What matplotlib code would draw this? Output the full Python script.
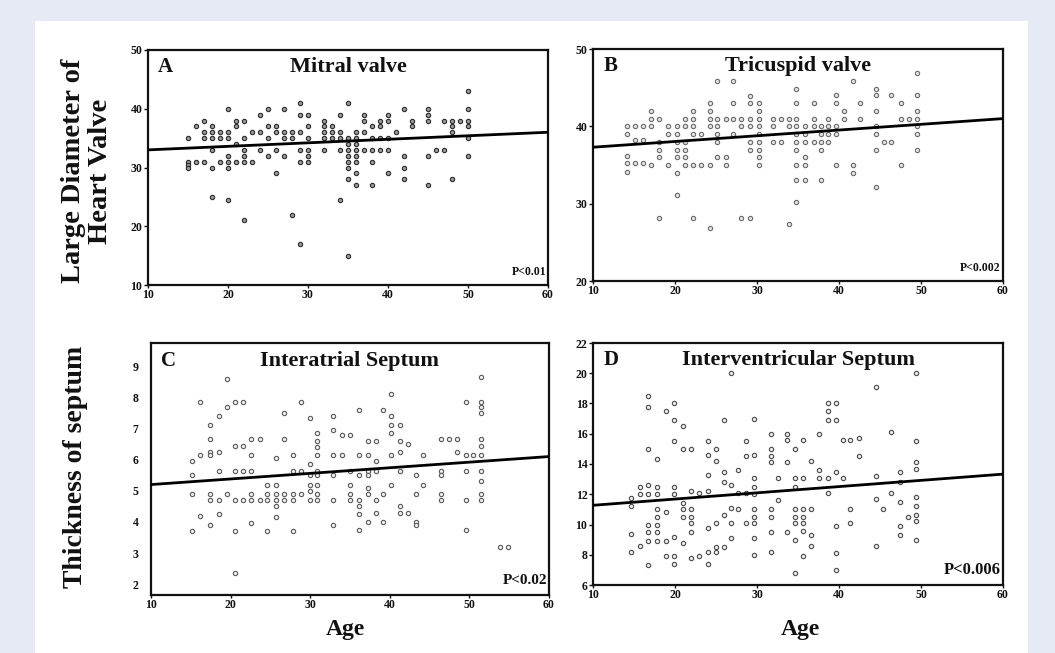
import matplotlib
matplotlib.use("Agg")
import matplotlib.pyplot as plt
from matplotlib.patches import Rectangle

plt.rcParams['font.family'] = ['Liberation Serif', 'DejaVu Serif']
plt.rcParams['font.weight'] = 'bold'

# ---------------- data ----------------
# Panel A: Mitral valve (age, diameter)
a_age = [15]*4 + [16]*2 + [17]*4 + [18]*6 + [19]*3 + [20]*7 + [21]*4 + [22]*6 + [23]*2 + [24]*3 + \
        [25]*4 + [26]*4 + [27]*4 + [28]*3 + [29]*6 + [30]*6 + [32]*5 + [33]*3 + [34]*5 + [35]*9 + \
        [36]*8 + [37]*4 + [38]*5 + [39]*4 + [40]*5 + [41]*1 + [42]*4 + [43]*2 + [45]*5 + [46]*1 + \
        [47]*2 + [48]*4 + [49]*1 + [50]*6
a_val = [35, 31, 30.5, 30,
         37, 31,
         38, 36, 35, 31,
         37, 36, 35, 33, 30, 25,
         36, 35, 31,
         40, 36, 35, 32, 31, 30, 24.5,
         38, 37, 34, 31,
         38, 35, 33, 32, 31, 21,
         36, 31,
         39, 36, 33,
         40, 37, 35, 32,
         37, 36, 33, 29,
         40, 36, 35, 32,
         36, 35, 22,
         41, 39, 36, 33, 31, 17,
         39, 37, 35, 33, 32, 31,
         38, 37, 36, 35, 33,
         37, 36, 35,
         39, 36, 35, 33, 24.5,
         41, 35, 34, 33, 32, 31, 30, 28, 15,
         36, 35, 34, 33, 32, 31, 29, 27,
         39, 38, 36, 33,
         37, 35, 33, 31, 27,
         38, 37, 35, 33,
         39, 38, 35, 33, 29,
         36,
         40, 32, 30, 28,
         38, 37,
         40, 39, 38, 32, 27,
         33,
         38, 33,
         38, 37, 36, 28,
         38,
         43, 40, 38, 37, 35, 32]

# Panel B: Tricuspid valve
b_age = [14.1]*5 + [15.1]*3 + [16.1]*3 + [17.1]*4 + [18.1]*5 + [19.2]*3 + [20.2]*7 + [21.2]*6 + \
        [22.2]*6 + [23.2]*2 + [24.3]*6 + [25.1]*6 + [26.2]*3 + [27.1]*4 + [28.1]*3 + [29.1]*7 + \
        [30.2]*9 + [32.0]*3 + [32.9]*2 + [33.9]*3 + [34.8]*10 + [35.9]*6 + [36.9]*4 + [37.8]*5 + \
        [38.7]*4 + [39.6]*5 + [40.6]*2 + [41.7]*3 + [42.6]*2 + [44.5]*7 + [45.5]*1 + [46.4]*2 + \
        [47.5]*3 + [48.5]*1 + [49.5]*7
b_val = [40, 39, 36.1, 35.2, 34.1,
         40, 38.2, 35.2,
         40, 38.2, 35.2,
         42, 41, 40, 35,
         41, 38, 37, 36, 28.2,
         40, 39, 35,
         40, 39, 38, 37, 36, 34, 31.1,
         41, 40, 38, 37, 36, 35,
         42, 41, 40, 39, 35, 28.2,
         39, 35,
         43, 42, 41, 40, 35, 26.9,
         45.8, 41, 40, 39, 38, 36,
         41, 36, 35,
         45.8, 43, 41, 39,
         41, 40, 28.2,
         43.9, 43, 41, 40, 38, 37, 28.2,
         43, 42, 41, 40, 39, 38, 37, 36, 35,
         41, 40, 38,
         41, 38,
         41, 40, 27.4,
         44.8, 43, 41, 40, 39, 38, 37, 35, 33, 30.2,
         40, 39, 38, 36, 35, 33,
         43, 41, 40, 38,
         40, 39, 38, 37, 33,
         41, 40, 39, 38,
         44, 43, 40, 39, 35,
         42, 41,
         45.8, 35, 34,
         43, 41,
         44.8, 44, 42, 40, 39, 37, 32.2,
         38,
         44, 38,
         43, 41, 35,
         41,
         46.9, 44, 42, 41, 40, 39, 37]

# Panel C: Interatrial septum
c_age = [15.1]*4 + [16.2]*3 + [17.4]*7 + [18.5]*5 + [19.5]*3 + [20.5]*6 + [21.6]*4 + [22.6]*6 + \
        [23.7]*2 + [24.6]*4 + [25.7]*6 + [26.7]*4 + [27.8]*5 + [28.8]*3 + [30.0]*6 + [30.9]*9 + \
        [32.9]*6 + [34.0]*2 + [35.0]*5 + [36.1]*7 + [37.2]*7 + [38.3]*5 + [39.2]*3 + [40.2]*6 + \
        [41.3]*6 + [42.3]*2 + [43.3]*4 + [44.2]*2 + [46.4]*5 + [47.4]*1 + [48.4]*2 + [49.6]*5 + \
        [50.5]*1 + [51.5]*11 + [53.8, 54.9]
c_val = [5.95, 5.5, 4.9, 3.7,
         7.85, 6.15, 4.2,
         7.1, 6.65, 6.25, 6.15, 4.9, 4.7, 3.9,
         7.4, 6.25, 5.65, 4.7, 4.25,
         8.6, 7.7, 4.9,
         7.85, 6.45, 5.65, 4.7, 3.7, 2.35,
         7.85, 6.45, 5.65, 4.7,
         6.65, 6.15, 5.65, 4.9, 4.7, 3.95,
         6.65, 4.7,
         5.2, 4.9, 4.7, 3.7,
         6.05, 5.2, 4.9, 4.7, 4.5, 4.15,
         7.5, 6.65, 4.9, 4.7,
         6.15, 5.65, 4.9, 4.7, 3.7,
         7.85, 5.65, 4.9,
         7.35, 5.85, 5.5, 5.2, 5.0, 4.7,
         6.85, 6.6, 6.4, 6.15, 5.65, 5.5, 5.2, 4.9, 4.7,
         7.4, 6.95, 6.15, 5.5, 4.7, 3.9,
         6.8, 6.15,
         6.8, 5.65, 5.2, 4.9, 4.7,
         7.6, 6.15, 5.5, 4.7, 4.5, 4.25, 3.75,
         6.6, 6.15, 5.65, 5.5, 5.1, 4.9, 4.0,
         6.6, 5.95, 5.65, 4.7, 4.3,
         7.6, 4.9, 4.0,
         8.1, 7.4, 7.1, 6.85, 6.15, 5.2,
         7.1, 6.6, 6.25, 5.65, 4.5, 4.3,
         6.5, 4.3,
         5.5, 4.9, 4.0, 3.9,
         6.15, 5.2,
         6.65, 5.65, 5.5, 4.9, 4.7,
         6.65,
         6.65, 6.25,
         7.85, 6.15, 5.65, 4.7, 3.75,
         6.15,
         8.65, 7.85, 7.7, 7.5, 6.65, 6.45, 6.15, 5.65, 5.3, 4.9, 4.7,
         3.2, 3.2]

# Panel D: Interventricular septum
d_age = [14.6]*4 + [15.7]*3 + [16.7]*9 + [17.8]*8 + [18.9]*4 + [19.9]*8 + [21.0]*6 + [21.9]*7 + \
        [22.9]*2 + [24.0]*7 + [25.0]*5 + [26.0]*5 + [26.8]*5 + [27.7]*3 + [28.6]*4 + [29.6]*10 + \
        [31.7]*8 + [32.6]*2 + [33.6]*4 + [34.6]*8 + [35.6]*7 + [36.6]*4 + [37.6]*3 + [38.6]*5 + \
        [39.6]*6 + [40.5]*2 + [41.4]*3 + [42.4]*2 + [44.5]*4 + [45.4]*1 + [46.4]*2 + [47.4]*5 + \
        [48.4]*1 + [49.4]*9
d_val = [11.75, 11.2, 9.4, 8.2,
         12.5, 12.0, 8.6,
         18.5, 17.8, 15.0, 12.6, 12.0, 10.0, 9.5, 8.9, 7.3,
         14.3, 12.5, 12.0, 11.0, 10.5, 10.0, 9.5, 8.9,
         17.5, 10.8, 8.9, 7.9,
         18.0, 16.9, 15.5, 12.5, 12.0, 9.2, 7.9, 7.4,
         16.5, 15.0, 11.4, 11.0, 10.5, 8.8,
         15.0, 12.2, 11.0, 10.5, 10.1, 9.5, 7.8,
         12.1, 7.9,
         15.5, 14.6, 13.3, 12.2, 9.8, 8.2, 7.4,
         15.0, 14.2, 10.1, 8.5, 8.2,
         16.9, 13.5, 12.8, 10.6, 8.5,
         20.0, 12.6, 11.1, 10.1, 9.1,
         13.6, 12.1, 11.0,
         15.5, 14.5, 12.1, 10.1,
         17.0, 14.6, 13.1, 12.5, 12.0, 11.0, 10.5, 10.1, 9.1, 8.0,
         16.0, 15.0, 14.5, 14.1, 11.0, 10.5, 9.5, 8.2,
         13.1, 11.6,
         16.0, 15.6, 14.1, 9.5,
         15.0, 13.1, 12.5, 11.0, 10.5, 10.1, 9.0, 6.8,
         15.6, 13.1, 11.0, 10.5, 10.1, 9.6, 7.9,
         14.2, 11.0, 9.3, 8.6,
         16.0, 13.6, 13.1,
         18.0, 17.5, 16.9, 13.1, 12.1,
         18.0, 16.9, 13.5, 9.9, 8.1, 7.0,
         15.6, 13.1,
         15.6, 11.0, 10.1,
         15.7, 14.5,
         19.1, 13.2, 11.7, 8.6,
         11.0,
         16.1, 12.1,
         13.5, 12.8, 11.5, 9.9, 9.3,
         10.5,
         20.0, 15.5, 14.1, 13.7, 11.8, 11.2, 10.6, 10.2, 9.0]

# Regression lines (value at age 10 and age 60)
fit_age = [10, 60]
a_fit = [33.0, 36.0]
b_fit = [37.3, 41.0]
c_fit = [5.2, 6.1]
d_fit = [11.27, 13.33]

titles = ["Mitral valve", "Tricuspid valve", "Interatrial Septum", "Interventricular Septum"]
letters = ["A", "B", "C", "D"]
pvals = ["P<0.01", "P<0.002", "P<0.02", "P<0.006"]
x_ticks = [10, 20, 30, 40, 50, 60]
a_yticks = [10, 20, 30, 40, 50]
b_yticks = [20, 30, 40, 50]
c_yticks = [2, 3, 4, 5, 6, 7, 8, 9]
d_yticks = [6, 8, 10, 12, 14, 16, 18, 20, 22]

# ---------------- figure ----------------
W, H = 1055, 653
fig = plt.figure(figsize=(W / 100, H / 100), dpi=100)
fig.patch.set_facecolor('#e6eaf5')
fig.patches.append(Rectangle((35 / W, 0), (1028 - 35) / W, (H - 21) / H,
                             transform=fig.transFigure, facecolor='white',
                             edgecolor='none', zorder=-10))

def box(l, t, r, b):
    return [l / W, 1 - b / H, (r - l) / W, (b - t) / H]

axA = fig.add_axes(box(148, 50, 548, 285))
axB = fig.add_axes(box(593, 49, 1003, 281))
axC = fig.add_axes(box(151, 343, 549, 595))
axD = fig.add_axes(box(593, 343, 1003, 585))

panels = [
    (axA, a_age, a_val, a_fit, (10, 50), a_yticks, '#2a2a2a', '#9a9a9a', 8.5, 3),
    (axB, b_age, b_val, b_fit, (20, 50), b_yticks, '#6a6a6a', '#e4e4e4', 8.5, 3),
    (axC, c_age, c_val, c_fit, (1.65, 9.75), c_yticks, '#5a5a5a', '#f0f0f0', 11, 0),
    (axD, d_age, d_val, d_fit, (6, 22), d_yticks, '#4a4a4a', '#eeeeee', 12, 3),
]

for i, (ax, xs, ys, fit, ylim, yt, mec, mfc, pfs, tlen) in enumerate(panels):
    ax.set_facecolor('none')
    ax.plot(xs, ys, linestyle='none', marker='o', markersize=3.1,
            markeredgecolor=mec, markerfacecolor=mfc, markeredgewidth=0.8, zorder=2)
    ax.plot(fit_age, fit, color='black', linewidth=2.0, zorder=3)
    ax.set_xlim(10, 60)
    ax.set_ylim(*ylim)
    ax.set_xticks(x_ticks)
    ax.set_yticks(yt)
    for s in ax.spines.values():
        s.set_linewidth(1.6)
        s.set_color('#111111')
    ax.tick_params(axis='y', direction='out', length=tlen, width=1,
                   labelsize=8.5, pad=1 if tlen else 9, colors='#111111')
    ax.tick_params(axis='x', direction='out', length=2, width=1,
                   labelsize=8.5, pad=1, colors='#111111')
    for lab in ax.get_xticklabels() + ax.get_yticklabels():
        lab.set_fontweight('bold')
    ax.text(0.025, 0.97, letters[i], transform=ax.transAxes, ha='left', va='top',
            fontsize=15, fontweight='bold', color='#111111')
    ax.text(0.5, 0.97, titles[i], transform=ax.transAxes, ha='center', va='top',
            fontsize=16, fontweight='bold', color='#111111')
    ax.text(0.995, 0.03, pvals[i], transform=ax.transAxes, ha='right', va='bottom',
            fontsize=pfs, fontweight='bold', color='#111111')

fig.text(87 / W, 1 - 171 / H, "Large Diameter of\nHeart Valve", rotation=90,
         ha='center', va='center', fontsize=20.5, fontweight='bold',
         color='#111111', linespacing=1.1)
fig.text(75 / W, 1 - 467 / H, "Thickness of septum", rotation=90,
         ha='center', va='center', fontsize=20, fontweight='bold', color='#111111')
fig.text(345 / W, 1 - 630 / H, "Age", ha='center', va='center',
         fontsize=17, fontweight='bold', color='#111111')
fig.text(800 / W, 1 - 630 / H, "Age", ha='center', va='center',
         fontsize=17, fontweight='bold', color='#111111')

fig.savefig('out.png', dpi=100, facecolor=fig.get_facecolor())
